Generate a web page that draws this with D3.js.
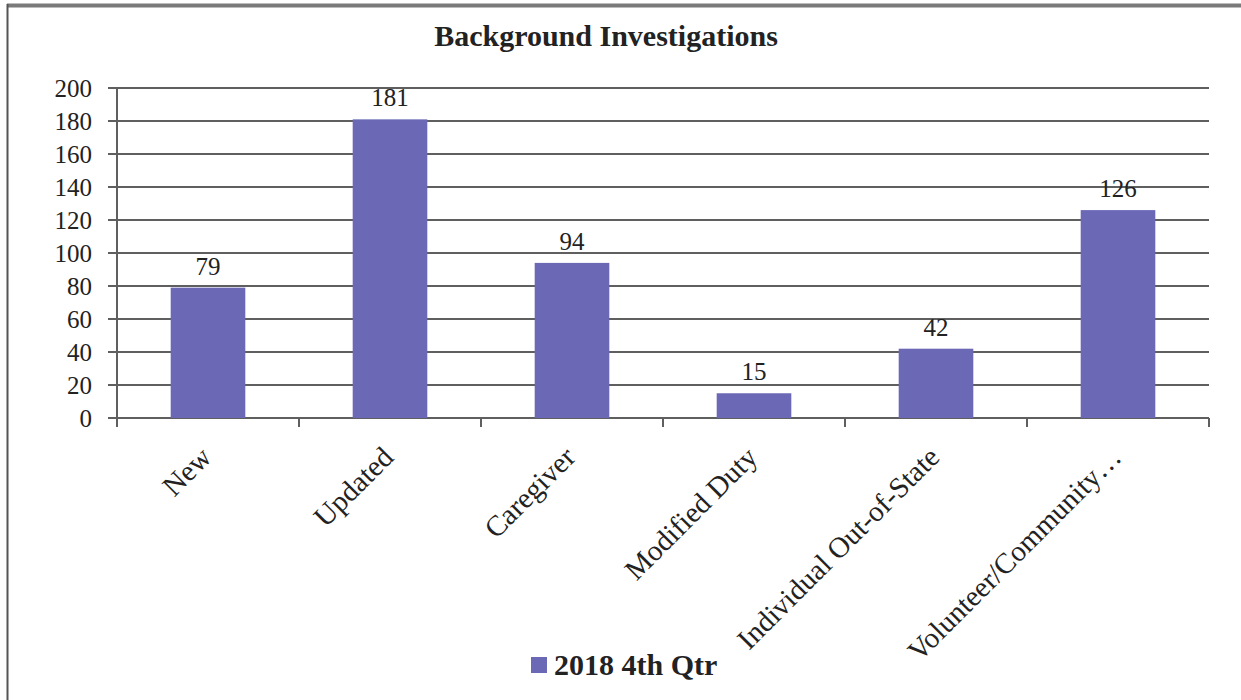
<!DOCTYPE html>
<html>
<head>
<meta charset="utf-8">
<script src="https://cdn.jsdelivr.net/npm/d3@7"></script>
<style>
  html, body { margin: 0; padding: 0; background: #fff; }
  svg { display: block; }
  text { font-family: "Liberation Serif", "Times New Roman", serif; fill: #222; }
</style>
</head>
<body>
<svg id="chart" width="1241" height="700"></svg>
<script>
const title = "Background Investigations";
const categories = ["New", "Updated", "Caregiver", "Modified Duty", "Individual Out-of-State", "Volunteer/Community…"];
const values = [79, 181, 94, 15, 42, 126];
const seriesName = "2018 4th Qtr";
const yTicks = [0, 20, 40, 60, 80, 100, 120, 140, 160, 180, 200];

(function () {
const svg = d3.select("#chart");
const barColor = "#6b69b6";
const gridColor = "#5f5f5f";

// frame
svg.append("line").attr("x1", 7).attr("x2", 1241).attr("y1", 5.5).attr("y2", 5.5)
  .attr("stroke", "#7a7a7a").attr("stroke-width", 4);
svg.append("line").attr("x1", 7.5).attr("x2", 7.5).attr("y1", 4).attr("y2", 700)
  .attr("stroke", "#555").attr("stroke-width", 2);

const pL = 117, pR = 1209, pT = 88, pB = 418;

const x = d3.scaleBand().domain(categories).range([pL, pR]).paddingInner(0.59).paddingOuter(0.295);
const xb = d3.scaleBand().domain(categories).range([pL, pR]);
const y = d3.scaleLinear().domain([0, 200]).range([pB, pT]);

// title
svg.append("text").attr("x", 606).attr("y", 46).attr("text-anchor", "middle")
  .attr("font-size", 30).attr("font-weight", "bold").text(title);

// gridlines
svg.append("g").selectAll("line").data(yTicks).join("line")
  .attr("x1", pL - 9).attr("x2", pR)
  .attr("y1", d => y(d)).attr("y2", d => y(d))
  .attr("stroke", gridColor).attr("stroke-width", 2);

// y axis line
svg.append("line").attr("x1", pL).attr("x2", pL).attr("y1", pT).attr("y2", pB + 8)
  .attr("stroke", gridColor).attr("stroke-width", 2);

// x ticks at band boundaries
const bounds = categories.map(c => xb(c)).concat([pR]);
svg.append("g").selectAll("line").data(bounds).join("line")
  .attr("x1", d => d).attr("x2", d => d).attr("y1", pB).attr("y2", pB + 9)
  .attr("stroke", gridColor).attr("stroke-width", 2);

// y labels
svg.append("g").selectAll("text").data(yTicks).join("text")
  .attr("x", 92).attr("y", d => y(d)).attr("dy", "0.34em").attr("text-anchor", "end")
  .attr("font-size", 25).text(d => d);

// bars
svg.append("g").selectAll("rect").data(values).join("rect")
  .attr("x", (d, i) => x(categories[i])).attr("width", x.bandwidth())
  .attr("y", d => y(d)).attr("height", d => y(0) - y(d))
  .attr("fill", barColor);

// data labels
svg.append("g").selectAll("text").data(values).join("text")
  .attr("x", (d, i) => x(categories[i]) + x.bandwidth() / 2)
  .attr("y", d => y(d) - 13).attr("text-anchor", "middle")
  .attr("font-size", 25).text(d => d);

// x labels
svg.append("g").selectAll("text").data(categories).join("text")
  .attr("transform", d => `translate(${xb(d) + xb.bandwidth() / 2 + 5},${pB + 41}) rotate(-45)`)
  .attr("text-anchor", "end").attr("font-size", 29).text(d => d);

// legend
svg.append("rect").attr("x", 531).attr("y", 657).attr("width", 16).attr("height", 16).attr("fill", barColor);
svg.append("text").attr("x", 554).attr("y", 675).attr("font-size", 30).attr("font-weight", "bold").text(seriesName);
})();
</script>
</body>
</html>
